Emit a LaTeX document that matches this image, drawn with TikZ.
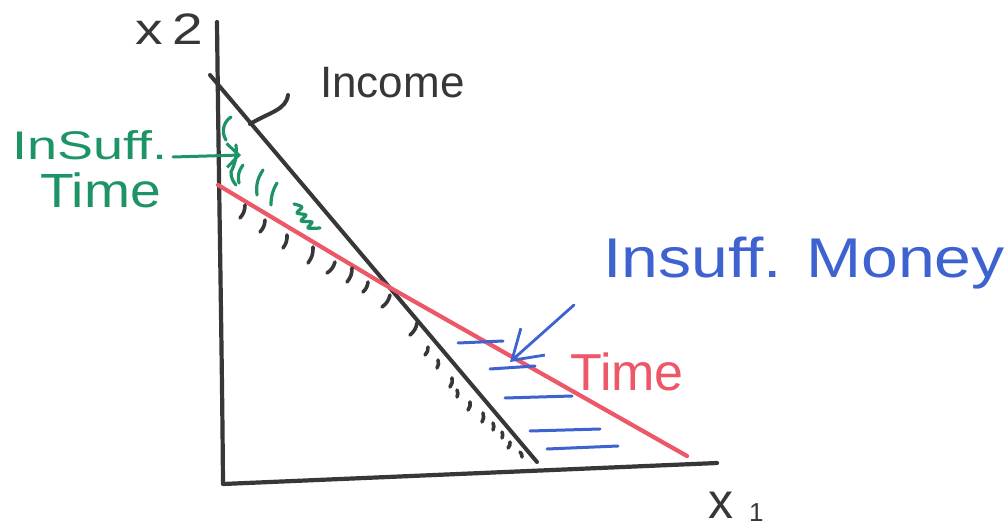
\documentclass[tikz,border=0pt]{standalone}
\usepackage{graphicx}
\usepackage{fontspec}
\setmainfont{Liberation Sans}
\usetikzlibrary{arrows.meta}
\definecolor{ink}{RGB}{55,55,55}
\definecolor{redink}{RGB}{236,88,104}
\definecolor{blueink}{RGB}{62,98,208}
\definecolor{greenink}{RGB}{30,148,102}
\begin{document}
\begin{tikzpicture}[x=1pt,y=-1pt,line cap=round,line join=round,
  axisline/.style={draw=ink,line width=4.2pt},
  incomeline/.style={draw=ink,line width=4pt},
  timeline/.style={draw=redink,line width=4.2pt},
  blackhatch/.style={draw=ink,line width=3.6pt},
  greenhatch/.style={draw=greenink,line width=3.2pt},
  bluehatch/.style={draw=blueink,line width=3pt},
  lbl/.style={inner sep=0pt,anchor=base west},
]
\useasboundingbox (0,0) rectangle (1006,529);
\fill[white] (0,0) rectangle (1006,529);

% key points
\coordinate (ytop) at (217,22);
\coordinate (O) at (223,484);
\coordinate (xend) at (717,463);
\coordinate (inc0) at (210,75);
\coordinate (inc1) at (537,462);
\coordinate (t0) at (218,185);
\coordinate (cross) at (380,282);
\coordinate (t1) at (687,456);

% axes
\draw[axisline] (ytop) .. controls (219,200) and (222,350) .. (O) -- (xend);

% budget lines
\draw[incomeline] (inc0) -- (inc1);
\draw[timeline] (t0) -- (cross) -- (t1);

% black hatching
\foreach \a/\b/\c/\d in {245/205/240/218, 265/220/260/232, 287/235/283/248,
  313/247/308/263, 335/262/327/273, 352/268/347/282, 368/282/363/292,
  390/295/382/307, 417/323/410/335}
  \draw[blackhatch] (\a,\b) to[bend left=20] (\c,\d);
\foreach \a/\b/\c/\d in {428/347/425/355, 438/360/437/368, 452/378/450/387,
  457/390/457/397, 470/402/468/410, 483/413/482/422, 493/423/493/430,
  502/432/502/438, 510/442/508/448, 520/452/522/457}
  \draw[blackhatch] (\a,\b) to[bend left=25] (\c,\d);

% green hatching
\draw[greenhatch] (231,117) to[bend right=45] (226,140);
\draw[greenhatch] (236,145) to[bend left=15] (231,172) to[bend right=20] (236,185);
\draw[greenhatch] (243,165) to[bend right=25] (239,183);
\draw[greenhatch] (263,170) to[bend right=20] (257,195);
\draw[greenhatch] (277,183) to[bend right=15] (271,205);
\draw[greenhatch] plot[smooth] coordinates {(294,204) (302,207) (297,213) (306,215) (301,221) (312,222) (308,228) (320,228)};

% blue hatching
\draw[bluehatch] (458,343) -- (503,341);
\draw[bluehatch] (490,369) -- (535,366);
\draw[bluehatch] (505,398) -- (572,396);
\draw[bluehatch] (530,431) -- (600,429);
\draw[bluehatch] (547,449) -- (618,446);

% labels
\node[lbl,text=ink,font=\fontsize{44}{44}\selectfont] (x2lbl) at (135,45) {\scalebox{1.25}[1]{x\hspace{8pt}2}};
\node[lbl,text=ink,font=\fontsize{44}{44}\selectfont] (inclbl) at (320,98) {Income};
\node[lbl,text=greenink,font=\fontsize{40}{40}\selectfont] (gins) at (12,160) {\scalebox{1.35}[1]{InSuff.}};
\node[lbl,text=greenink,font=\fontsize{48}{48}\selectfont] (gtime) at (40,208) {\scalebox{1.15}[1]{Time}};
\node[lbl,text=blueink,font=\fontsize{56}{56}\selectfont] (money) at (603,277) {\scalebox{1.18}[1]{Insuff. Money}};
\node[lbl,text=redink,font=\fontsize{52}{52}\selectfont] (rtime) at (570,390) {Time};
\node[lbl,text=ink,font=\fontsize{50}{50}\selectfont] (x1lbl) at (708,518) {x\hspace{16pt}\raisebox{-3pt}{\fontsize{26}{26}\selectfont 1}};

% income leader
\coordinate (lead0) at (250,124);
\coordinate (lead1) at (288,95);
\draw[incomeline] (lead0) .. controls (270,112) and (286,110) .. (lead1);

% green arrow
\coordinate (ga0) at (173,157);
\coordinate (ga1) at (241,155);
\draw[draw=greenink,line width=3pt,-{Straight Barb[length=12pt,width=24pt]}] (ga0) -- (ga1);

% blue arrow
\coordinate (ba0) at (574,305);
\coordinate (ba1) at (510,362);
\draw[draw=blueink,line width=2.8pt,-{Straight Barb[length=28pt,width=36pt]}] (ba0) -- (ba1);
\end{tikzpicture}
\end{document}
